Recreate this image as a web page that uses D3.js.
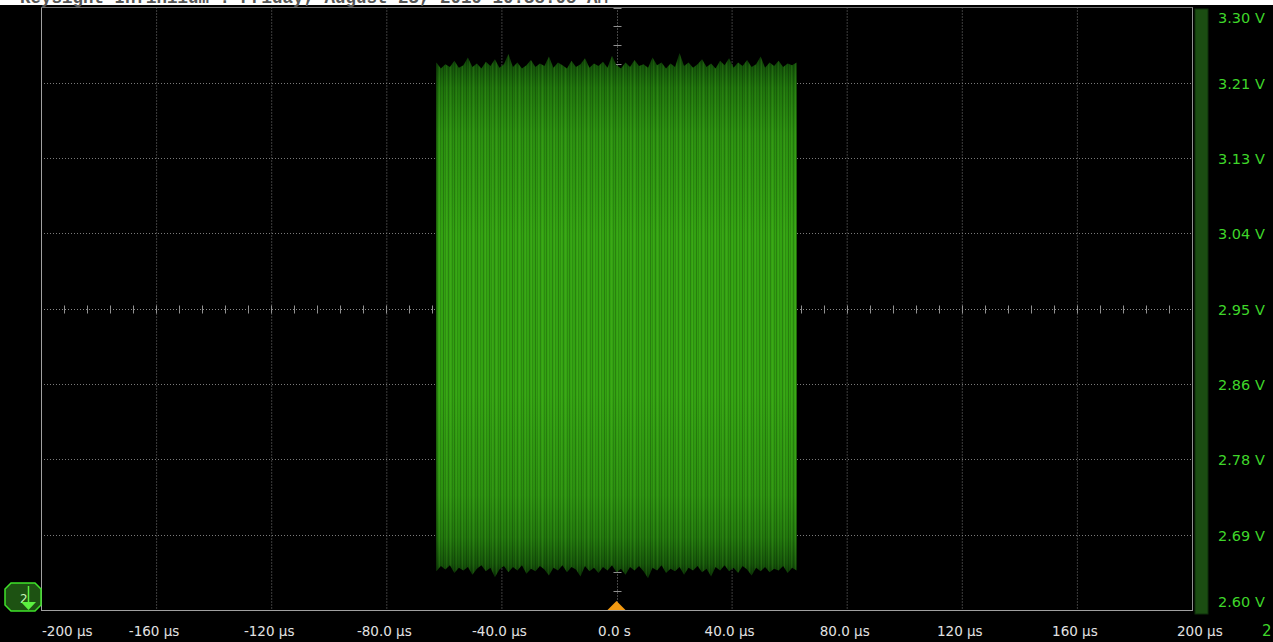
<!DOCTYPE html>
<html>
<head>
<meta charset="utf-8">
<script src="https://cdn.jsdelivr.net/npm/d3@7/dist/d3.min.js"></script>
<style>
  html, body { margin: 0; padding: 0; background: #000; overflow: hidden; }
  svg { display: block; }
</style>
</head>
<body>
<svg id="scope" width="1273" height="642"></svg>
<script>
// Screen header (mostly scrolled off the top edge)
const headerText = "Keysight Infiniium : Friday, August 23, 2019 10:38:05 AM";

// Horizontal axis: time in microseconds
const timeTicks = [-200, -160, -120, -80, -40, 0, 40, 80, 120, 160, 200];
const timeTickLabels = ["-200 \u00b5s", "-160 \u00b5s", "-120 \u00b5s", "-80.0 \u00b5s", "-40.0 \u00b5s",
  "0.0 s", "40.0 \u00b5s", "80.0 \u00b5s", "120 \u00b5s", "160 \u00b5s", "200 \u00b5s"];

// Vertical axis: channel 2 voltage
const voltTicks = [2.60, 2.6875, 2.775, 2.8625, 2.95, 3.0375, 3.125, 3.2125, 3.30];
const voltTickLabels = ["2.60 V", "2.69 V", "2.78 V", "2.86 V", "2.95 V", "3.04 V", "3.13 V", "3.21 V", "3.30 V"];

// Burst window (µs)
const burstStart = -62.6;
const burstEnd = 62.6;

// Peak envelope of the burst (V), sampled evenly across the window
const burstUpper = [3.236,3.229,3.234,3.231,3.238,3.230,3.233,3.242,3.231,3.235,3.229,3.237,3.232,3.240,3.230,3.234,3.246,3.231,3.236,3.229,3.233,3.239,3.231,3.235,3.232,3.243,3.230,3.236,3.233,3.229,3.238,3.231,3.234,3.241,3.230,3.235,3.232,3.237,3.230,3.244,3.233,3.229,3.236,3.231,3.239,3.232,3.234,3.230,3.242,3.233,3.236,3.229,3.235,3.231,3.247,3.232,3.236,3.230,3.234,3.240,3.231,3.235,3.229,3.238,3.233,3.241,3.230,3.236,3.232,3.239,3.231,3.234,3.243,3.230,3.236,3.232,3.238,3.231,3.235,3.233,3.236];
const burstLower = [2.645,2.651,2.647,2.652,2.643,2.649,2.646,2.650,2.641,2.648,2.652,2.645,2.649,2.638,2.647,2.651,2.644,2.650,2.646,2.652,2.642,2.648,2.645,2.651,2.647,2.640,2.649,2.646,2.652,2.644,2.650,2.647,2.639,2.651,2.645,2.649,2.643,2.650,2.646,2.652,2.644,2.648,2.641,2.650,2.646,2.651,2.645,2.637,2.649,2.646,2.652,2.643,2.648,2.645,2.650,2.641,2.649,2.646,2.651,2.644,2.648,2.639,2.650,2.646,2.652,2.645,2.649,2.643,2.651,2.647,2.640,2.649,2.645,2.650,2.644,2.648,2.646,2.651,2.643,2.649,2.646];

const svg = d3.select("#scope");
const W = 1273, H = 642;
const plot = { left: 41, right: 1192, top: 7.5, bottom: 610 };

const x = d3.scaleLinear().domain([-200, 200]).range([plot.left, plot.right]);
const y = d3.scaleLinear().domain([2.60, 3.30]).range([plot.bottom, plot.top]);

svg.append("rect").attr("width", W).attr("height", H).attr("fill", "#000");

// Header strip
svg.append("rect").attr("x", 0).attr("y", 0).attr("width", W).attr("height", 5).attr("fill", "#fff");
svg.append("text").attr("x", 20).attr("y", 3)
  .attr("font-family", "Liberation Mono, monospace").attr("font-weight", "bold")
  .attr("font-size", 17.5).attr("fill", "#555").text(headerText);

const defs = svg.append("defs");
const clip = defs.append("clipPath").attr("id", "plotClip");
clip.append("rect").attr("x", plot.left).attr("y", plot.top)
  .attr("width", plot.right - plot.left).attr("height", plot.bottom - plot.top);

// Grid
const grid = svg.append("g").attr("clip-path", "url(#plotClip)");
grid.selectAll("line.vg").data(timeTicks.filter(t => t !== 0 && t > -200 && t < 200)).join("line")
  .attr("x1", d => x(d) + 0.5).attr("x2", d => x(d) + 0.5)
  .attr("y1", plot.top).attr("y2", plot.bottom)
  .attr("stroke", "#7a7a7a").attr("stroke-width", 1).attr("stroke-dasharray", "1,2");
grid.selectAll("line.hg").data(voltTicks.filter(v => v !== 2.95 && v > 2.6 && v < 3.3)).join("line")
  .attr("x1", plot.left).attr("x2", plot.right)
  .attr("y1", d => Math.round(y(d)) + 0.5).attr("y2", d => Math.round(y(d)) + 0.5)
  .attr("stroke", "#7a7a7a").attr("stroke-width", 1).attr("stroke-dasharray", "1,2");

// Centre cross-hair with minor ticks
const cx = Math.round(x(0)) + 0.5, cy = Math.round(y(2.95)) + 0.5;
grid.append("line").attr("x1", cx).attr("x2", cx).attr("y1", plot.top).attr("y2", plot.bottom)
  .attr("stroke", "#8a8a8a").attr("stroke-dasharray", "1,2");
grid.append("line").attr("x1", plot.left).attr("x2", plot.right).attr("y1", cy).attr("y2", cy)
  .attr("stroke", "#8a8a8a").attr("stroke-dasharray", "1,2");
const minorT = d3.range(-200, 200.001, 8);
grid.selectAll("line.mt").data(minorT).join("line")
  .attr("x1", d => Math.round(x(d)) + 0.5).attr("x2", d => Math.round(x(d)) + 0.5)
  .attr("y1", cy - 4).attr("y2", cy + 4).attr("stroke", "#909090");
const minorV = d3.range(0, 33).map(i => 2.60 + i * 0.021875);
grid.selectAll("line.mv").data(minorV).join("line")
  .attr("x1", cx - 4).attr("x2", cx + 4)
  .attr("y1", d => Math.round(y(d)) + 0.5).attr("y2", d => Math.round(y(d)) + 0.5)
  .attr("stroke", "#909090");

// Burst trace
const n = Math.min(burstUpper.length, burstLower.length);
const burst = d3.range(n).map(i => ({
  t: burstStart + (burstEnd - burstStart) * i / (n - 1),
  hi: burstUpper[i],
  lo: burstLower[i]
}));

const grad = defs.append("linearGradient").attr("id", "traceGrad")
  .attr("gradientUnits", "userSpaceOnUse")
  .attr("x1", 0).attr("x2", 0).attr("y1", y(3.25)).attr("y2", y(2.635));
[[0.00, "#0a2e05"], [0.03, "#15560a"], [0.07, "#1f740c"], [0.16, "#2b9010"],
 [0.35, "#33a212"], [0.65, "#33a212"], [0.84, "#2c9110"], [0.92, "#22780d"],
 [0.97, "#16560a"], [1.00, "#0a2e05"]].forEach(([o, c]) =>
  grad.append("stop").attr("offset", o).attr("stop-color", c));

// Irregular vertical streaks inside the trace
const stripes = defs.append("pattern").attr("id", "traceStripes")
  .attr("patternUnits", "userSpaceOnUse").attr("width", 23).attr("height", 37);
[[0, 0.20], [3, 0.12], [6, 0.22], [8, 0.10], [11, 0.18], [15, 0.14], [17, 0.20], [20, 0.11]]
  .forEach(([px, a]) => stripes.append("rect").attr("x", px).attr("y", 0)
    .attr("width", 1).attr("height", 37).attr("fill", `rgba(0,0,0,${a})`));
[[2, 0.10], [9, 0.08], [13, 0.10], [19, 0.07]]
  .forEach(([px, a]) => stripes.append("rect").attr("x", px).attr("y", 0)
    .attr("width", 1).attr("height", 37).attr("fill", `rgba(140,230,70,${a})`));

const area = d3.area()
  .x(d => x(d.t)).y0(d => y(d.lo)).y1(d => y(d.hi))
  .curve(d3.curveLinear);

const traceG = svg.append("g").attr("clip-path", "url(#plotClip)");
traceG.append("path").datum(burst).attr("d", area).attr("fill", "url(#traceGrad)");
traceG.append("path").datum(burst).attr("d", area).attr("fill", "url(#traceStripes)");

// Plot frame
svg.append("line").attr("x1", plot.left + 0.5).attr("x2", plot.left + 0.5)
  .attr("y1", plot.top).attr("y2", plot.bottom).attr("stroke", "#a0a0a0");
svg.append("line").attr("x1", plot.left).attr("x2", plot.right + 1)
  .attr("y1", plot.bottom + 0.5).attr("y2", plot.bottom + 0.5).attr("stroke", "#a0a0a0");
svg.append("line").attr("x1", plot.left).attr("x2", plot.right + 1)
  .attr("y1", plot.top).attr("y2", plot.top).attr("stroke", "#707070");
svg.append("line").attr("x1", plot.right + 0.5).attr("x2", plot.right + 0.5)
  .attr("y1", plot.top).attr("y2", plot.bottom).attr("stroke", "#909090");

// Channel scale bar on the right
svg.append("rect").attr("x", 1195).attr("y", 9).attr("width", 13).attr("height", 605)
  .attr("fill", "#1b4d12").attr("stroke", "#0f2e0a").attr("stroke-width", 1);

// Voltage labels
svg.append("g").selectAll("text").data(voltTicks).join("text")
  .attr("x", 1218)
  .attr("y", d => Math.min(Math.max(y(d), 17), 601) + 6)
  .attr("font-family", "DejaVu Sans, sans-serif").attr("font-size", 14.5)
  .attr("fill", "#3fd62a")
  .text((d, i) => voltTickLabels[i]);

// Time labels
svg.append("g").selectAll("text").data(timeTicks).join("text")
  .attr("x", (d, i) => i === 0 ? 42 : (i === timeTicks.length - 1 ? 1177 : x(d) - 2))
  .attr("y", 636)
  .attr("text-anchor", (d, i) => (i === 0 || i === timeTicks.length - 1) ? "start" : "middle")
  .attr("font-family", "DejaVu Sans, sans-serif").attr("font-size", 13.5)
  .attr("fill", "#e2e2e2")
  .text((d, i) => timeTickLabels[i]);

// Channel number at the bottom right
svg.append("text").attr("x", 1262).attr("y", 636)
  .attr("font-family", "DejaVu Sans, sans-serif").attr("font-size", 15)
  .attr("fill", "#3fd62a").text("2");

// Trigger position marker
const tx = x(0);
svg.append("path")
  .attr("d", `M${tx - 9},${plot.bottom} L${tx},${plot.bottom - 9} L${tx + 9},${plot.bottom} Z`)
  .attr("fill", "#f39a12");

// Channel 2 ground reference marker
const mk = svg.append("g");
const mx0 = 5, mx1 = 41, my0 = 583, my1 = 611, c = 6;
mk.append("path")
  .attr("d", `M${mx0 + c},${my0} L${mx1 - c},${my0} L${mx1},${my0 + c} L${mx1},${my1 - c} L${mx1 - c},${my1} L${mx0 + c},${my1} L${mx0},${my1 - c} L${mx0},${my0 + c} Z`)
  .attr("fill", "#1d5212").attr("stroke", "#3fe22a").attr("stroke-width", 1.5);
mk.append("text").attr("x", 20).attr("y", 603)
  .attr("font-family", "DejaVu Sans, sans-serif").attr("font-size", 12)
  .attr("fill", "#c8f5b8").text("2");
mk.append("line").attr("x1", 28.5).attr("x2", 28.5).attr("y1", 586).attr("y2", 603)
  .attr("stroke", "#5cf040").attr("stroke-width", 1.5);
mk.append("path").attr("d", "M21,602 L36,602 L28.5,610 Z").attr("fill", "#5cf040");
</script>
</body>
</html>
